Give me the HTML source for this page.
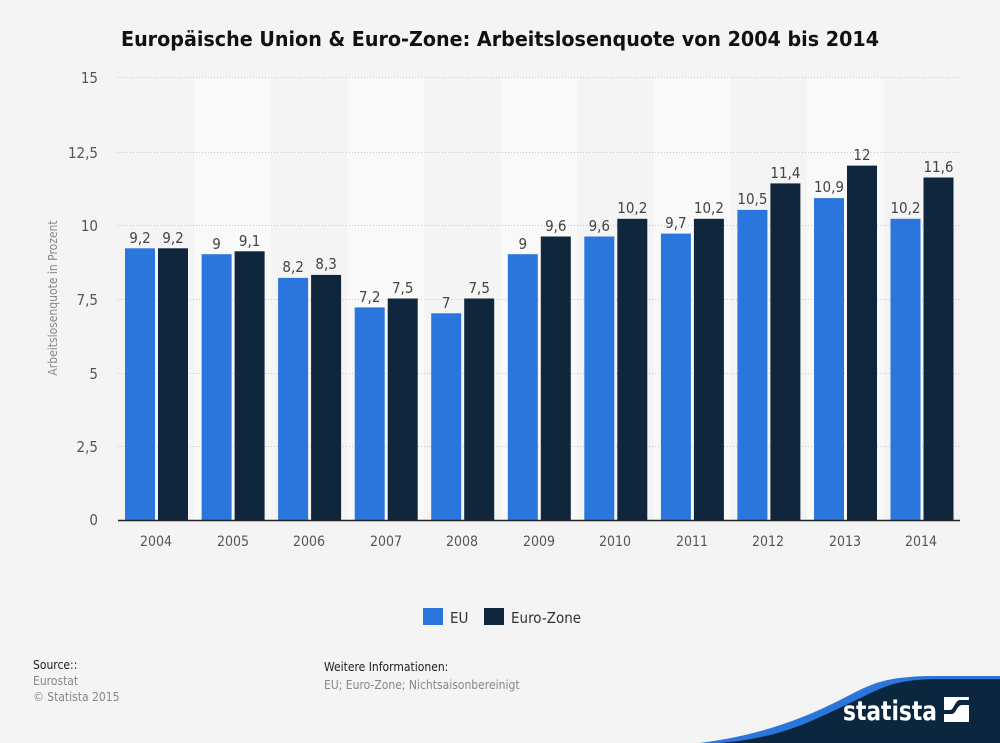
<!DOCTYPE html>
<html><head><meta charset="utf-8"><style>
body{margin:0;background:#f4f4f4;}
svg{display:block;font-family:"DejaVu Sans Condensed","DejaVu Sans",sans-serif;font-stretch:condensed;}
</style></head><body>
<svg width="1000" height="743" viewBox="0 0 1000 743" xmlns="http://www.w3.org/2000/svg">
<rect width="1000" height="743" fill="#f4f4f4"/>
<text x="121" y="46" textLength="758" lengthAdjust="spacingAndGlyphs" font-weight="bold" font-size="20" fill="#111">Europäische Union &amp; Euro-Zone: Arbeitslosenquote von 2004 bis 2014</text>
<g fill="#f9f9f9">
<rect x="194.6" y="77" width="76.5" height="443"/>
<rect x="347.7" y="77" width="76.5" height="443"/>
<rect x="500.8" y="77" width="76.5" height="443"/>
<rect x="653.9" y="77" width="76.5" height="443"/>
<rect x="807" y="77" width="76.5" height="443"/>
</g>
<g stroke="#c8c8c8" stroke-dasharray="1,2" stroke-width="1">
<line x1="118" x2="960" y1="77.5" y2="77.5"/>
<line x1="118" x2="960" y1="152.5" y2="152.5"/>
<line x1="118" x2="960" y1="225.5" y2="225.5"/>
<line x1="118" x2="960" y1="299.5" y2="299.5"/>
<line x1="118" x2="960" y1="373.5" y2="373.5"/>
<line x1="118" x2="960" y1="446.5" y2="446.5"/>
</g>
<g font-size="15" fill="#555" text-anchor="end">
<text x="98" y="83">15</text><text x="98" y="158">12,5</text><text x="98" y="231">10</text>
<text x="98" y="305">7,5</text><text x="98" y="379">5</text><text x="98" y="452">2,5</text><text x="98" y="525">0</text>
</g>
<text transform="translate(57,298) rotate(-90)" text-anchor="middle" font-size="12" fill="#888">Arbeitslosenquote in Prozent</text>
<g fill="#2a76dd">
<rect x="125" y="248.3" width="30" height="271.7"/>
<rect x="201.6" y="254.2" width="30" height="265.8"/>
<rect x="278.1" y="277.9" width="30" height="242.1"/>
<rect x="354.7" y="307.4" width="30" height="212.6"/>
<rect x="431.2" y="313.3" width="30" height="206.7"/>
<rect x="507.8" y="254.2" width="30" height="265.8"/>
<rect x="584.3" y="236.5" width="30" height="283.5"/>
<rect x="660.9" y="233.6" width="30" height="286.4"/>
<rect x="737.4" y="209.9" width="30" height="310.1"/>
<rect x="814" y="198.1" width="30" height="321.9"/>
<rect x="890.5" y="218.8" width="30" height="301.2"/>
</g>
<g fill="#10263d">
<rect x="158" y="248.3" width="30" height="271.7"/>
<rect x="234.6" y="251.3" width="30" height="268.7"/>
<rect x="311.1" y="274.9" width="30" height="245.1"/>
<rect x="387.7" y="298.5" width="30" height="221.5"/>
<rect x="464.2" y="298.5" width="30" height="221.5"/>
<rect x="540.8" y="236.5" width="30" height="283.5"/>
<rect x="617.3" y="218.8" width="30" height="301.2"/>
<rect x="693.9" y="218.8" width="30" height="301.2"/>
<rect x="770.4" y="183.4" width="30" height="336.6"/>
<rect x="847" y="165.6" width="30" height="354.4"/>
<rect x="923.5" y="177.5" width="30" height="342.5"/>
</g>
<g font-size="15" fill="#444" text-anchor="middle">
<text x="140" y="243">9,2</text><text x="173" y="243">9,2</text>
<text x="216.6" y="249">9</text><text x="249.6" y="246">9,1</text>
<text x="293.1" y="272">8,2</text><text x="326.1" y="269">8,3</text>
<text x="369.7" y="302">7,2</text><text x="402.7" y="293">7,5</text>
<text x="446.2" y="308">7</text><text x="479.2" y="293">7,5</text>
<text x="522.8" y="249">9</text><text x="555.8" y="231">9,6</text>
<text x="599.3" y="231">9,6</text><text x="632.3" y="213">10,2</text>
<text x="675.9" y="228">9,7</text><text x="708.9" y="213">10,2</text>
<text x="752.4" y="204">10,5</text><text x="785.4" y="178">11,4</text>
<text x="829" y="192">10,9</text><text x="862" y="160">12</text>
<text x="905.5" y="213">10,2</text><text x="938.5" y="172">11,6</text>
</g>
<line x1="118" x2="960" y1="520.5" y2="520.5" stroke="#222" stroke-width="1.5"/>
<g font-size="14" fill="#555" text-anchor="middle">
<text x="156" y="546">2004</text><text x="233" y="546">2005</text><text x="309" y="546">2006</text>
<text x="386" y="546">2007</text><text x="462" y="546">2008</text><text x="539" y="546">2009</text>
<text x="615" y="546">2010</text><text x="692" y="546">2011</text><text x="768" y="546">2012</text>
<text x="845" y="546">2013</text><text x="921" y="546">2014</text>
</g>
<rect x="423" y="608" width="20" height="17" fill="#2a76dd"/>
<text x="450" y="623" font-size="15" fill="#333">EU</text>
<rect x="484" y="608" width="20" height="17" fill="#10263d"/>
<text x="511" y="623" font-size="15" fill="#333">Euro-Zone</text>
<g font-size="12">
<text x="33" y="669" fill="#222">Source::</text>
<text x="33" y="685" fill="#888">Eurostat</text>
<text x="33" y="701" fill="#888">© Statista 2015</text>
<text x="324" y="671" fill="#222">Weitere Informationen:</text>
<text x="324" y="689" fill="#888">EU; Euro-Zone; Nichtsaisonbereinigt</text>
</g>
<path d="M700,743 C760,735 800,720 840,700 C870,685 880,677 930,676 L1000,676 L1000,743 Z" fill="#2a76dd"/>
<path d="M720,743 C780,738 810,722 850,703 C880,689 890,680 935,679 L1000,679 L1000,743 Z" fill="#0b2740"/>
<text x="843" y="720" textLength="94" lengthAdjust="spacingAndGlyphs" font-weight="bold" font-size="27" fill="#fff">statista</text>
<rect x="944" y="697" width="25" height="25" fill="#fff"/>
<path d="M944,714 L952,714 C956,714 957,705 962,705 L969,705 L969,700 L960,700 C955,700 954,710 950,710 L944,710 Z" fill="#0b2740"/>
</svg>
</body></html>
